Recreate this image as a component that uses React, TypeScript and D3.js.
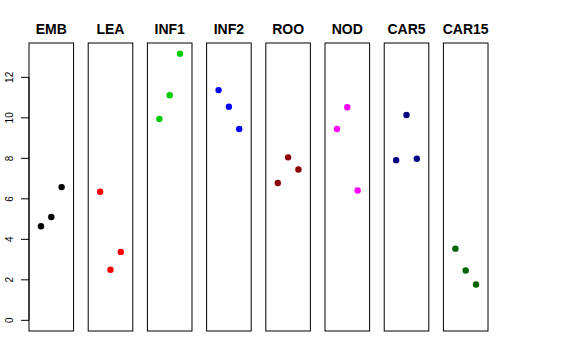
import React from "react";
import * as d3 from "d3";

const categories = ["EMB", "LEA", "INF1", "INF2", "ROO", "NOD", "CAR5", "CAR15"];
const colors = ["#000000", "#FF0000", "#00CD00", "#0000FF", "#8B0000", "#FF00FF", "#000080", "#006400"];
const EMB = [4.65, 5.1, 6.58];
const LEA = [6.35, 2.5, 3.38];
const INF1 = [9.94, 11.12, 13.17];
const INF2 = [11.37, 10.55, 9.45];
const ROO = [6.78, 8.05, 7.45];
const NOD = [9.45, 10.52, 6.41];
const CAR5 = [7.91, 10.14, 7.98];
const CAR15 = [3.54, 2.46, 1.77];
const series = [EMB, LEA, INF1, INF2, ROO, NOD, CAR5, CAR15];
const yTicks = [0, 2, 4, 6, 8, 10, 12];

const W = 576;
const H = 360;

export default function App() {
  const all = series.flat();
  const ymin = 0;
  const ymax = d3.max(all) as number;
  const pad = (ymax - ymin) * 0.04;
  const y = d3.scaleLinear().domain([ymin - pad, ymax + pad]).range([331, 43]);
  const band = d3.scaleBand<string>().domain(categories).range([29, 488]).paddingInner(0.247).paddingOuter(0);
  const bw = band.bandwidth();
  const x = d3.scaleLinear().domain([-0.16, 4.16]).range([0, bw]);
  const font = "'Liberation Sans', Arial, Helvetica, sans-serif";

  return (
    <svg width={W} height={H} style={{ position: "absolute", left: 0, top: 0, background: "#fff" }} fontFamily={font}>
      <rect x={0} y={0} width={W} height={H} fill="#fff" />
      {categories.map((c, i) => {
        const x0 = band(c) as number;
        return (
          <g key={c}>
            <text x={x0 + bw / 2} y={34} textAnchor="middle" fontWeight="bold" fontSize={14} fill="#000">
              {c}
            </text>
            <rect x={x0} y={43} width={bw} height={331 - 43} fill="none" stroke="#000" strokeWidth={1} />
            {series[i].map((v, j) => (
              <circle key={j} cx={x0 + x(j + 1)} cy={y(v)} r={3.2} fill={colors[i]} />
            ))}
          </g>
        );
      })}
      <g>
        <line x1={29} x2={29} y1={y(yTicks[0])} y2={y(yTicks[yTicks.length - 1])} stroke="#000" />
        {yTicks.map((t) => (
          <g key={t}>
            <line x1={21} x2={29} y1={y(t)} y2={y(t)} stroke="#000" />
            <text
              transform={`translate(${13},${y(t)}) rotate(-90)`}
              textAnchor="middle"
              fontSize={10}
              fill="#000"
            >
              {t}
            </text>
          </g>
        ))}
      </g>
    </svg>
  );
}
